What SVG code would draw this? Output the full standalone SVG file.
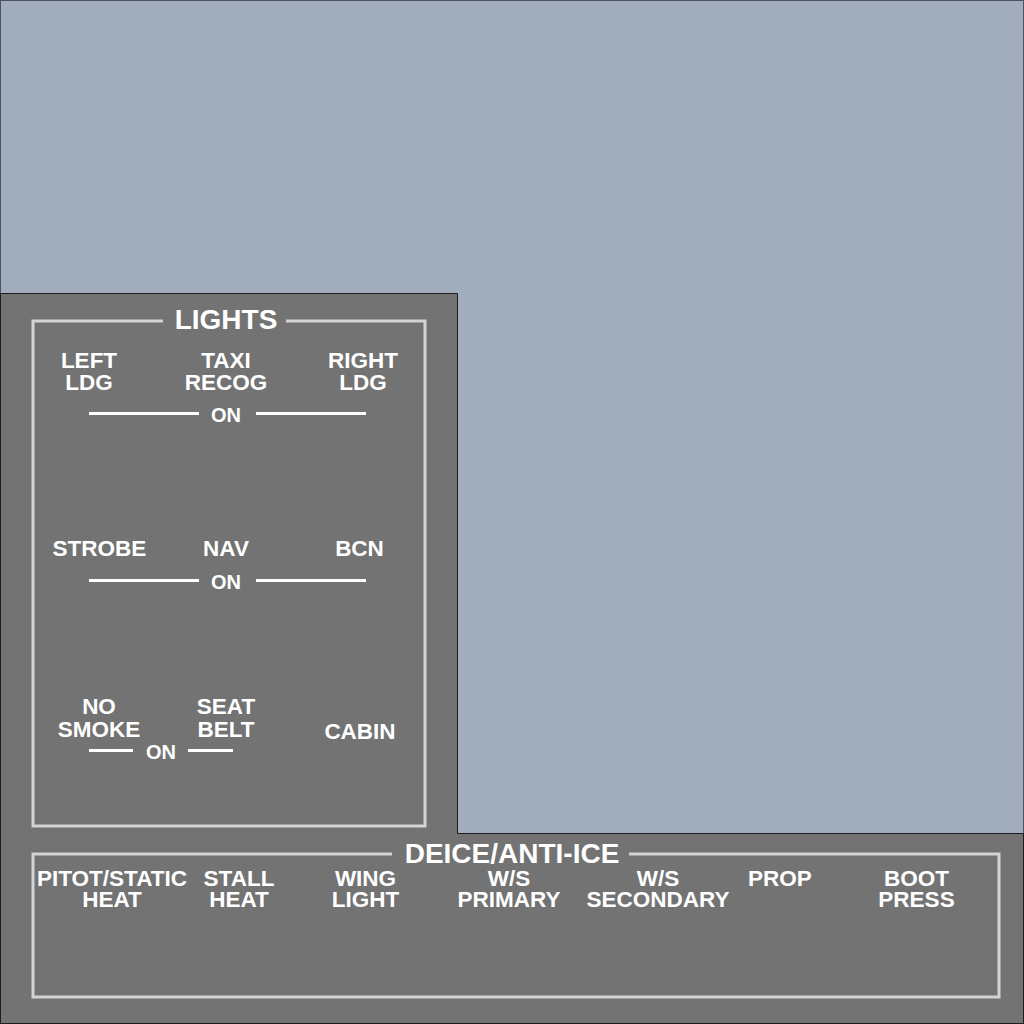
<svg xmlns="http://www.w3.org/2000/svg" width="1024" height="1024" viewBox="0 0 1024 1024">
<style>
.t{font-family:"Liberation Sans",Arial,sans-serif;font-weight:bold;fill:#ffffff;text-anchor:middle}
.l{font-size:22.5px}
.h{font-size:28px}
.o{font-size:20px}
.frame{fill:none;stroke:#d4d4d4;stroke-width:3}
.bar{stroke:#ffffff;stroke-width:3}
</style>
<rect x="0.5" y="0.5" width="1023" height="1023" fill="#a2adbd" stroke="#4a5360" stroke-width="1"/>
<path d="M0.5 293.5 H457.5 V833.5 H1023.5 V1023.5 H0.5 Z" fill="#737373" stroke="#1e1e1e" stroke-width="1"/>
<g id="lights">
<path class="frame" d="M163 321 H33 V826 H425 V321 H286"/>
<text class="t h" x="226" y="329">LIGHTS</text>
</g>
<g id="left-ldg"><text class="t l" x="89" y="368">LEFT</text><text class="t l" x="89" y="390">LDG</text></g>
<g id="taxi-recog"><text class="t l" x="226" y="368">TAXI</text><text class="t l" x="226" y="390">RECOG</text></g>
<g id="right-ldg"><text class="t l" x="363" y="368">RIGHT</text><text class="t l" x="363" y="390">LDG</text></g>
<g id="on1"><line class="bar" x1="89" y1="413.5" x2="199" y2="413.5"/><line class="bar" x1="256" y1="413.5" x2="366" y2="413.5"/><text class="t o" x="226" y="422">ON</text></g>
<g id="strobe"><text class="t l" x="99.5" y="556">STROBE</text></g>
<g id="nav"><text class="t l" x="226" y="556">NAV</text></g>
<g id="bcn"><text class="t l" x="359.5" y="556">BCN</text></g>
<g id="on2"><line class="bar" x1="89" y1="580.5" x2="199" y2="580.5"/><line class="bar" x1="256" y1="580.5" x2="366" y2="580.5"/><text class="t o" x="226" y="589">ON</text></g>
<g id="no-smoke"><text class="t l" x="99" y="714">NO</text><text class="t l" x="99" y="737">SMOKE</text></g>
<g id="seat-belt"><text class="t l" x="226" y="714">SEAT</text><text class="t l" x="226" y="737">BELT</text></g>
<g id="cabin"><text class="t l" x="360" y="739">CABIN</text></g>
<g id="on3"><line class="bar" x1="89" y1="750.5" x2="133" y2="750.5"/><line class="bar" x1="188" y1="750.5" x2="233" y2="750.5"/><text class="t o" x="161" y="759">ON</text></g>
<g id="deice">
<path class="frame" d="M392 854 H33 V997 H999 V854 H629"/>
<text class="t h" x="512" y="863">DEICE/ANTI-ICE</text>
</g>
<g id="pitot"><text class="t l" x="112" y="886">PITOT/STATIC</text><text class="t l" x="112" y="907">HEAT</text></g>
<g id="stall"><text class="t l" x="239" y="886">STALL</text><text class="t l" x="239" y="907">HEAT</text></g>
<g id="wing"><text class="t l" x="365.5" y="886">WING</text><text class="t l" x="365.5" y="907">LIGHT</text></g>
<g id="ws-primary"><text class="t l" x="509" y="886">W/S</text><text class="t l" x="509" y="907">PRIMARY</text></g>
<g id="ws-secondary"><text class="t l" x="658" y="886">W/S</text><text class="t l" x="658" y="907">SECONDARY</text></g>
<g id="prop"><text class="t l" x="780" y="886">PROP</text></g>
<g id="boot"><text class="t l" x="916.5" y="886">BOOT</text><text class="t l" x="916.5" y="907">PRESS</text></g>
<g id="connectors"></g>
</svg>
